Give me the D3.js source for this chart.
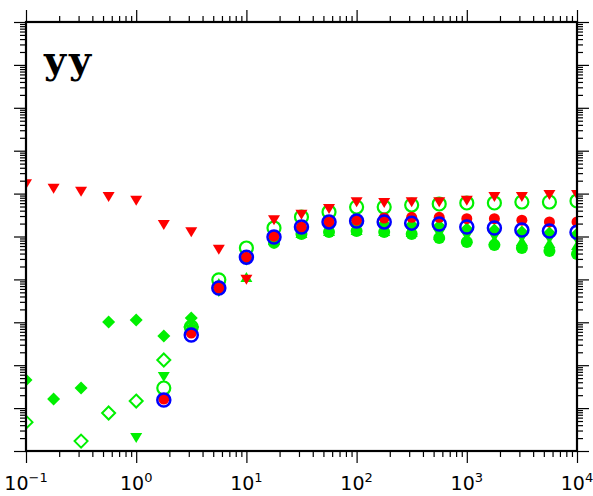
<!DOCTYPE html>
<html><head><meta charset="utf-8">
<script src="https://cdn.jsdelivr.net/npm/d3@7"></script>
<style>html,body{margin:0;padding:0;background:#fff;}svg{display:block;}</style>
</head><body>
<svg id="c" width="593" height="496"></svg>
<script>
// ---- data ----
const xVals = [0.1, 0.178, 0.316, 0.562, 1, 1.78, 3.16, 5.62, 10, 17.8, 31.6, 56.2, 100, 178, 316, 562, 1000, 1780, 3160, 5620, 10000];
const xMajorTicks = [0.1, 1, 10, 100, 1000, 10000];
const xTickExp = ["\u22121", "0", "1", "2", "3", "4"];
const yMajorTicks = [1, 1e1, 1e2, 1e3, 1e4, 1e5, 1e6, 1e7, 1e8, 1e9, 1e10];
const panelLabel = "yy";

const redTri = [1.66e6, 1.29e6, 1.10e6, 8.3e5, 6.8e5, 1.86e5, 1.26e5, 4.9e4, 9.8e3, 2.4e5, 3.2e5, 4.4e5, 6.3e5, 6.0e5, 6.3e5, 6.3e5, 6.8e5, 8.3e5, 8.3e5, 9.3e5, 9.3e5];
const redCirc = [null, null, null, null, null, 16.3, 562, 6.3e3, 3.3e4, 1.02e5, 1.66e5, 2.19e5, 2.4e5, 2.7e5, 2.8e5, 2.8e5, 2.6e5, 2.6e5, 2.4e5, 2.19e5, 2.19e5];
const blueCirc = [null, null, null, null, null, 15.5, 504, 6.3e3, 3.3e4, 9.7e4, 1.66e5, 2.19e5, 2.3e5, 2.19e5, 2.05e5, 1.95e5, 1.66e5, 1.58e5, 1.41e5, 1.34e5, 1.26e5];
const greenOpenCirc = [null, null, null, null, null, 29.4, 776, 9.8e3, 5.4e4, 1.58e5, 2.85e5, 3.73e5, 4.87e5, 4.87e5, 5.42e5, 5.73e5, 6.04e5, 6.04e5, 6.37e5, 6.37e5, 6.73e5];
const greenFillDiam = [45, 16.3, 29.4, 1.02e3, 1.13e3, 480, 1.26e3, 5.7e3, 3.0e4, 8.7e4, 1.5e5, 1.96e5, 2.07e5, 1.96e5, 1.86e5, 1.76e5, 1.5e5, 1.42e5, 1.27e5, 1.21e5, 1.14e5];
const greenOpenDiam = [4.7, null, 1.7, 7.7, 14.6, 132, 776, null, null, null, null, null, null, null, null, null, null, null, null, null, null];
const greenTriDown = [null, null, null, null, 2.0, 53, 661, 5.1e3, 3.0e4, 8.3e4, 1.27e5, 1.34e5, 1.42e5, 1.34e5, 1.27e5, 1.14e5, 1.02e5, 9.7e4, 9.2e4, 8.7e4, 8.3e4];
const greenTriUp = [null, null, null, null, null, null, 865, 8.2e3, 1.14e4, 8.3e4, 1.21e5, 1.34e5, 1.42e5, 1.34e5, 1.27e5, 1.08e5, 9.2e4, 8.3e4, 7.9e4, 7.1e4, 6.3e4];
const greenFillCirc = [null, null, null, null, null, null, null, null, null, 7.1e4, 1.14e5, 1.27e5, 1.34e5, 1.27e5, 1.14e5, 9.2e4, 7.4e4, 6.3e4, 5.4e4, 4.6e4, 3.9e4];

// ---- layout ----
const L = 26, R = 577, T = 22, B = 451;
const svg = d3.select("#c");
const x = d3.scaleLog().domain([0.1, 1e4]).range([L, R]);
const y = d3.scaleLog().domain([1, 1e10]).range([B, T]);

const GREEN = "#00f000", RED = "#ff0000", BLUE = "#0000ff";

svg.append("defs").append("clipPath").attr("id", "clip")
  .append("rect").attr("x", L).attr("y", T).attr("width", R - L).attr("height", B - T);

const plot = svg.append("g").attr("clip-path", "url(#clip)");

function pts(arr) {
  return arr.map((v, i) => ({x: xVals[i], v})).filter(d => d.v != null);
}
const shapes = {
  triDown: "M-6,-5L6,-5L0,5Z",
  triUp: "M-6,5L6,5L0,-5Z",
  diamond: "M0,-6.5L6.5,0L0,6.5L-6.5,0Z"
};
function drawPath(arr, d, fill, stroke, sw) {
  plot.append("g").selectAll("path").data(pts(arr)).join("path")
    .attr("d", d)
    .attr("transform", p => `translate(${x(p.x)},${y(p.v)})`)
    .attr("fill", fill).attr("stroke", stroke).attr("stroke-width", sw || 0);
}
function drawCirc(arr, r, fill, stroke, sw) {
  plot.append("g").selectAll("circle").data(pts(arr)).join("circle")
    .attr("cx", p => x(p.x)).attr("cy", p => y(p.v)).attr("r", r)
    .attr("fill", fill).attr("stroke", stroke).attr("stroke-width", sw || 0);
}

// green series (behind)
drawCirc(greenFillCirc, 6, GREEN, "none");
drawPath(greenTriDown, shapes.triDown, GREEN, "none");
drawPath(greenTriUp, shapes.triUp, GREEN, "none");
drawPath(greenFillDiam, shapes.diamond, GREEN, "none");
drawPath(greenOpenDiam, shapes.diamond, "none", GREEN, 2);
drawCirc(greenOpenCirc, 6.5, "none", GREEN, 2.2);
// red + blue
drawPath(redTri, shapes.triDown, RED, "none");
drawCirc(redCirc, 5.5, RED, "none");
drawCirc(blueCirc, 6.5, "none", BLUE, 2.5);

// ---- axes ----
const xMinor = x.ticks().filter(t => !xMajorTicks.some(m => Math.abs(m - t) / m < 1e-6));
const yAll = [];
yMajorTicks.slice(0, -1).forEach(m => { for (let k = 2; k <= 9; k++) yAll.push(m * k); });

function axisG(gen, tx, ty) {
  const g = svg.append("g").attr("transform", `translate(${tx},${ty})`).call(gen);
  g.select(".domain").remove();
  g.selectAll("line").attr("stroke", "#000").attr("stroke-width", 1.2);
  g.selectAll("text").remove();
  return g;
}
axisG(d3.axisBottom(x).tickValues(xMinor).tickSize(6), 0, B);
axisG(d3.axisBottom(x).tickValues(xMajorTicks).tickSize(12), 0, B);
axisG(d3.axisTop(x).tickValues(xMinor).tickSize(6), 0, T);
axisG(d3.axisTop(x).tickValues(xMajorTicks).tickSize(12), 0, T);
axisG(d3.axisLeft(y).tickValues(yAll).tickSize(6), L, 0);
axisG(d3.axisLeft(y).tickValues(yMajorTicks).tickSize(12), L, 0);
axisG(d3.axisRight(y).tickValues(yAll).tickSize(6), R, 0);
axisG(d3.axisRight(y).tickValues(yMajorTicks).tickSize(12), R, 0);

svg.append("rect").attr("x", L).attr("y", T).attr("width", R - L).attr("height", B - T)
  .attr("fill", "none").attr("stroke", "#000").attr("stroke-width", 2.2);

// x tick labels
xMajorTicks.forEach((t, i) => {
  const tx = svg.append("text").attr("x", x(t)).attr("y", 490)
    .attr("text-anchor", "middle").attr("font-family", "DejaVu Sans")
    .attr("font-size", 19).attr("fill", "#000");
  tx.append("tspan").text("10");
  tx.append("tspan").attr("dy", -8).attr("font-size", 13).text(xTickExp[i]);
});

svg.append("text").attr("x", 44).attr("y", 73)
  .attr("font-family", "'DejaVu Serif', serif").attr("font-weight", "bold")
  .attr("font-size", 38).attr("letter-spacing", 3).attr("fill", "#000").text(panelLabel);
</script>
</body></html>
